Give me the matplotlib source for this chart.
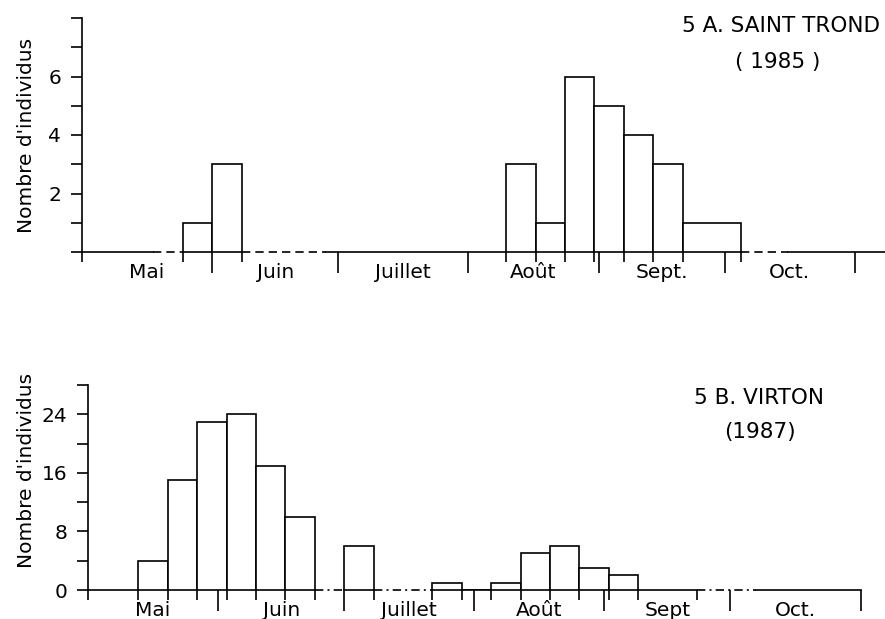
import matplotlib
matplotlib.use('Agg')
import matplotlib.pyplot as plt
import pandas as pd

# month boundaries (1 May -> 1 Nov) and month names under each axis
MONTH_STARTS = ['05-01', '06-01', '07-01', '08-01', '09-01', '10-01', '11-01']
st_months = ['Mai', 'Juin', 'Juillet', 'Août', 'Sept.', 'Oct.']
vi_months = ['Mai', 'Juin', 'Juillet', 'Août', 'Sept', 'Oct.']

### 5 A. Saint Trond (1985): start of each sampling period, its length, catch
st_start = ['1985-05-25', '1985-06-01', '1985-08-10', '1985-08-17', '1985-08-24',
            '1985-08-31', '1985-09-07', '1985-09-14', '1985-09-21']
st_length = [7, 7, 7, 7, 7, 7, 7, 7, 14]
st_counts = [1, 3, 3, 1, 6, 5, 4, 3, 1]
# periods without sampling (dashed baseline)
st_gaps = [('1985-05-18', '1985-05-25'), ('1985-06-08', '1985-06-28'),
           ('1985-10-05', '1985-10-16')]
st_extra_ticks = []

### 5 B. Virton (1987)
vi_start = ['1987-05-13', '1987-05-20', '1987-05-27', '1987-06-03', '1987-06-10',
            '1987-06-17', '1987-07-01', '1987-07-22', '1987-07-29', '1987-08-05',
            '1987-08-12', '1987-08-19', '1987-08-26', '1987-09-02']
vi_length = [7] * 14
vi_counts = [4, 15, 23, 24, 17, 10, 6, 1, 0, 1, 5, 6, 3, 2]
vi_gaps = [('1987-06-24', '1987-07-01'), ('1987-07-08', '1987-07-22'),
           ('1987-09-23', '1987-10-07')]
vi_extra_ticks = ['1987-09-23']

FS = 14.5
LW = 1.2


def     days(dates, year):
    '''
    Days counted from the 1st of May
    '''
    origin = pd.Timestamp(f'{year}-05-01')
    return [(pd.Timestamp(d) - origin).days for d in dates]


def     draw_panel(ax, year, start, length, counts, gaps, extra, months,
                   x_end, x_lim, ymax, ystep, ylabels, gap_style):
    x0 = days(start, year)
    bounds = days([f'{year}-{m}' for m in MONTH_STARTS], year)
    ### histogram bars
    ax.bar(x0, counts, width=length, align='edge', facecolor='white',
           edgecolor='black', linewidth=LW, zorder=3)
    ### baseline, dashed where nothing was sampled
    pos = 0
    for a, b in zip(days([g[0] for g in gaps], year), days([g[1] for g in gaps], year)):
        ax.plot([pos, a], [0, 0], color='black', lw=LW, clip_on=False)
        ax.plot([a, b], [0, 0], color='black', lw=LW, linestyle=gap_style,
                clip_on=False)
        pos = b
    ax.plot([pos, x_end], [0, 0], color='black', lw=LW, clip_on=False)
    ### x ticks: long at month limits, short at sampling limits
    edges = set(x0) | set(x + w for x, w in zip(x0, length))
    edges |= set(days(extra, year)) | {0}
    ax.set_xticks(bounds[1:])
    ax.set_xticks(sorted(edges), minor=True)
    ax.tick_params(axis='x', which='major', direction='out', length=15,
                   width=LW, labelbottom=False)
    ax.tick_params(axis='x', which='minor', direction='out', length=7,
                   width=LW)
    for name, a, b in zip(months, bounds[:-1], bounds[1:]):
        ax.annotate(name, ((a + b) / 2, 0), xytext=(0, -14.5),
                    textcoords='offset points', ha='center', va='center',
                    fontsize=FS, annotation_clip=False)
    ### y axis
    ax.set_xlim(0, x_lim)
    ax.set_ylim(0, ymax)
    ax.set_yticks(range(0, ymax + 1, ystep))
    ax.set_yticklabels(ylabels, fontsize=FS)
    ax.tick_params(axis='y', direction='out', length=8, width=LW, pad=7)
    for s in ['top', 'right', 'bottom']:
        ax.spines[s].set_visible(False)
    ax.spines['left'].set_linewidth(LW)


figure = plt.figure(figsize=(8.85, 6.19), dpi=100)

ax_st = figure.add_axes([82 / 885, 367 / 619, 803 / 885, 234 / 619])
draw_panel(ax_st, 1985, st_start, st_length, st_counts, st_gaps, st_extra_ticks,
           st_months, 191.2, 191.2, 8, 1, ['', '', '2', '', '4', '', '6', '', ''],
           (0, (5, 3)))

ax_vi = figure.add_axes([88 / 885, 29 / 619, 797 / 885, 205 / 619])
draw_panel(ax_vi, 1987, vi_start, vi_length, vi_counts, vi_gaps, vi_extra_ticks,
           vi_months, 184, 189.8, 28, 4, ['0', '', '8', '', '16', '', '24', ''],
           (0, (5, 2.5, 1.2, 2.5)))

# titles and y labels
figure.text(781 / 885, 1 - 26 / 619, '5 A. SAINT TROND', ha='center',
            va='center', fontsize=15.5)
figure.text(778 / 885, 1 - 62 / 619, '( 1985 )', ha='center', va='center',
            fontsize=15.5)
figure.text(759 / 885, 1 - 398 / 619, '5 B. VIRTON', ha='center', va='center',
            fontsize=15.5)
figure.text(760 / 885, 1 - 432 / 619, '(1987)', ha='center', va='center',
            fontsize=15.5)
figure.text(27 / 885, 1 - 135 / 619, "Nombre d'individus", rotation=90,
            ha='center', va='center', fontsize=FS)
figure.text(27 / 885, 1 - 470 / 619, "Nombre d'individus", rotation=90,
            ha='center', va='center', fontsize=FS)

figure.savefig('out.png', dpi=100, facecolor='white')
